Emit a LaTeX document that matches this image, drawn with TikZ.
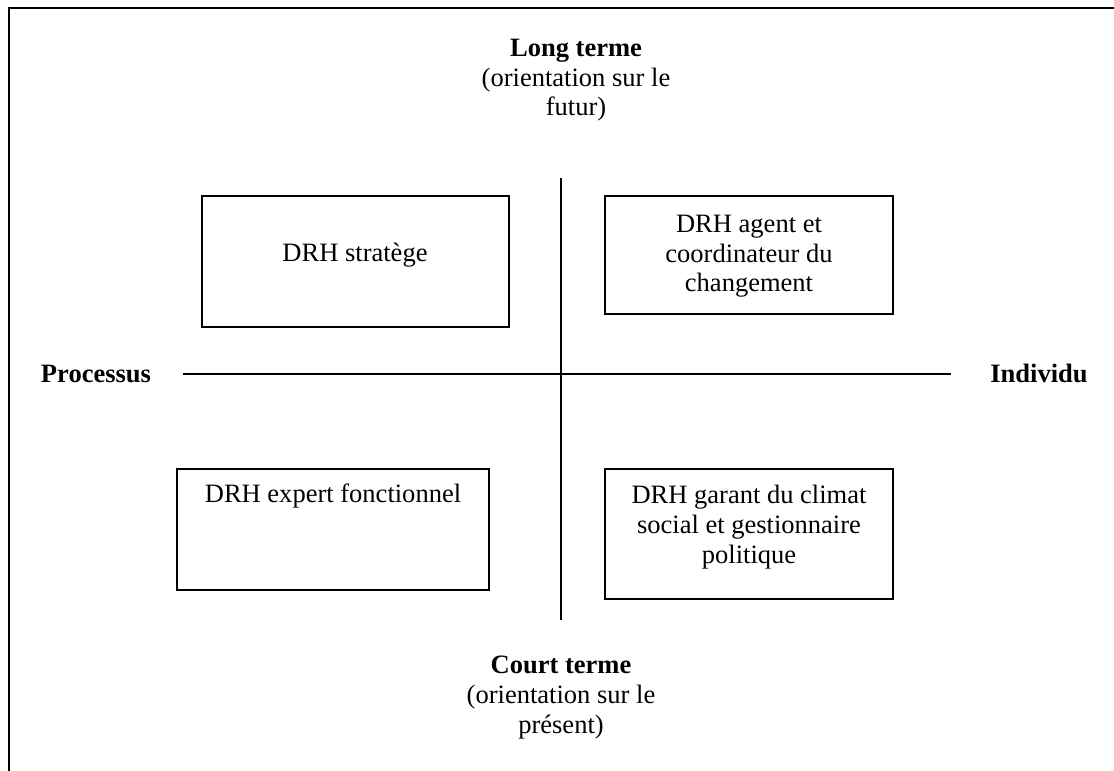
\documentclass[tikz,border=0pt]{standalone}
\usepackage{fontspec}
\setmainfont{Liberation Serif}

\begin{document}
\begin{tikzpicture}[x=0.4525pt, y=-0.4525pt,
    font=\fontsize{12}{13.5}\selectfont,
    txt/.style={align=center, anchor=base, inner sep=0pt}]
                \useasboundingbox (0,0) rectangle (1114,771);
                % frame
                \draw[line width=0.9pt] (9,771) -- (9,8) -- (1114,8);
                % axes
                \draw[line width=0.8pt] (183,374) -- (951,374);
                \draw[line width=0.8pt] (561,178) -- (561,620);
                % boxes
                \draw[line width=0.7pt] (202,196) rectangle (509,327);
                \draw[line width=0.7pt] (605,196) rectangle (893,314);
                \draw[line width=0.7pt] (177,469) rectangle (489,590);
                \draw[line width=0.7pt] (605,469) rectangle (893,599);
                \node[txt] (strat) at (355,262) {DRH stratège};
                \node[txt] (agent) at (749,292) {DRH agent et\\coordinateur du\\changement};
                \node[txt] (expert) at (333,503) {DRH expert fonctionnel};
                \node[txt] (garant) at (749,563) {DRH garant du climat\\social et gestionnaire\\politique};
                % axis labels
                \node[txt] (long) at (576,116) {\textbf{Long terme}\\(orientation sur le\\futur)};
                \node[txt] (court) at (561,733) {\textbf{Court terme}\\(orientation sur le\\présent)};
                \node[txt, font=\fontsize{12}{13.5}\selectfont\bfseries] (proc) at (96,383) {Processus};
                \node[txt, font=\fontsize{12}{13.5}\selectfont\bfseries] (indiv) at (1039,383) {Individu};
            \end{tikzpicture}
\end{document}
